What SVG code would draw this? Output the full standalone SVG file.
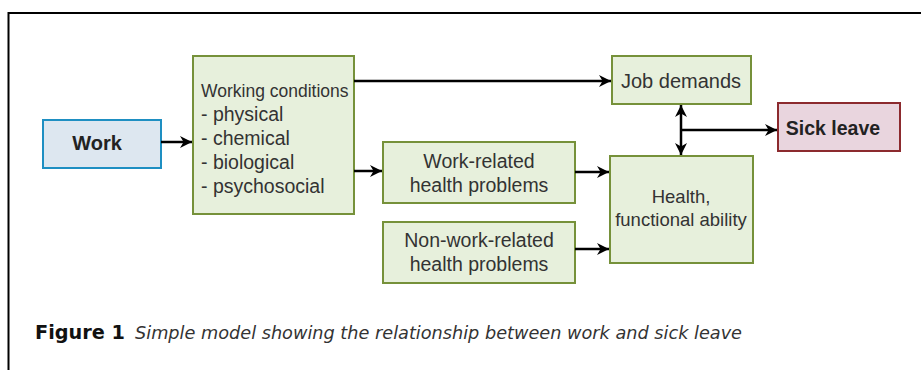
<svg xmlns="http://www.w3.org/2000/svg" width="921" height="370" viewBox="0 0 921 370">
<defs>
<style>
.g{fill:#e7f0dc;stroke:#76913a;stroke-width:2}
.t{font-family:"Liberation Sans",Arial,sans-serif;fill:#333}
.c{text-anchor:middle}
.b{font-weight:bold;fill:#222}
.ln{stroke:#000;stroke-width:2.5;fill:none}
</style>
<marker id="ah" viewBox="0 0 10 10" refX="10" refY="5" markerWidth="12" markerHeight="12" markerUnits="userSpaceOnUse" orient="auto-start-reverse">
<path d="M0,0 L10,5 L0,10 L3,5 Z" fill="#000"/>
</marker>
</defs>
<rect width="921" height="370" fill="#fff"/>
<path d="M8.5,370 V13 H921" fill="none" stroke="#000" stroke-width="2"/>
<g id="work">
<rect x="43" y="120" width="118" height="48" fill="#dde7f0" stroke="#1e8fc2" stroke-width="2"/>
<text class="t c b" x="97" y="150" font-size="20">Work</text>
</g>
<g id="conditions">
<rect class="g" x="193" y="56" width="161" height="158"/>
<text class="t" x="201" y="97" font-size="17.5">Working conditions</text>
<text class="t" x="201" y="121" font-size="19.5">- physical</text>
<text class="t" x="201" y="145" font-size="19.5">- chemical</text>
<text class="t" x="201" y="169" font-size="19.5">- biological</text>
<text class="t" x="201" y="193" font-size="19.5">- psychosocial</text>
</g>
<g id="jobdemands">
<rect class="g" x="612" y="56" width="139" height="48"/>
<text class="t c" x="681" y="88" font-size="20">Job demands</text>
</g>
<g id="workrelated">
<rect class="g" x="383" y="142" width="192" height="61"/>
<text class="t c" x="479" y="168" font-size="19.5">Work-related</text>
<text class="t c" x="479" y="192" font-size="19.5">health problems</text>
</g>
<g id="nonwork">
<rect class="g" x="383" y="222" width="192" height="61"/>
<text class="t c" x="479" y="247" font-size="19.5">Non-work-related</text>
<text class="t c" x="479" y="271" font-size="19.5">health problems</text>
</g>
<g id="health">
<rect class="g" x="610" y="156" width="143" height="107"/>
<text class="t c" x="681" y="203" font-size="18.5">Health,</text>
<text class="t c" x="681" y="226" font-size="18.5">functional ability</text>
</g>
<g id="sickleave">
<rect x="778" y="103" width="122" height="48" fill="#e9d5de" stroke="#8c2a2e" stroke-width="2"/>
<text class="t c b" x="833" y="135" font-size="19.5">Sick leave</text>
</g>
<g id="connectors">
<line class="ln" x1="161" y1="142" x2="192" y2="142" marker-end="url(#ah)"/>
<line class="ln" x1="354" y1="81" x2="611" y2="81" marker-end="url(#ah)"/>
<line class="ln" x1="354" y1="171" x2="382" y2="171" marker-end="url(#ah)"/>
<line class="ln" x1="575" y1="172" x2="609" y2="172" marker-end="url(#ah)"/>
<line class="ln" x1="575" y1="249" x2="609" y2="249" marker-end="url(#ah)"/>
<line class="ln" x1="681" y1="105" x2="681" y2="155" marker-start="url(#ah)" marker-end="url(#ah)"/>
<line class="ln" x1="681" y1="130" x2="777" y2="130" marker-end="url(#ah)"/>
</g>
<g id="caption">
<text x="35" y="339" font-family="'DejaVu Sans Condensed','Liberation Sans',sans-serif" font-size="19" font-weight="bold" fill="#111" textLength="90" lengthAdjust="spacingAndGlyphs">Figure 1</text>
<text x="135" y="339" font-family="'DejaVu Sans Condensed','Liberation Sans',sans-serif" font-size="18" font-style="italic" fill="#333" textLength="607" lengthAdjust="spacingAndGlyphs">Simple model showing the relationship between work and sick leave</text>
</g>
</svg>
